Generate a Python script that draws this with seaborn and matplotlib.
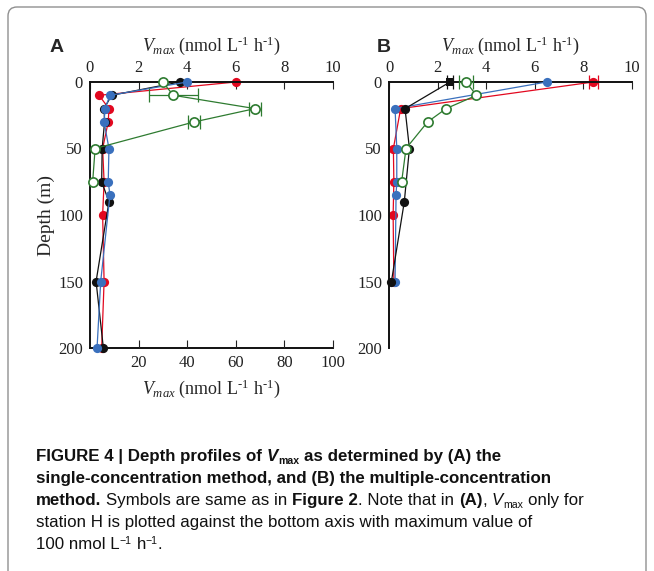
import matplotlib
matplotlib.use("Agg")
import matplotlib.pyplot as plt
import numpy as np
import pandas as pd
import seaborn as sns
from matplotlib.patches import FancyBboxPatch
from matplotlib.transforms import IdentityTransform

# ---------------- data ----------------
# Panel A: single-concentration method (top axis 0-10 nmol L-1 h-1)
a_red_depth = [0, 10, 20, 30, 50, 75, 100, 150, 200]
a_red_vmax = [6.0, 0.37, 0.78, 0.75, 0.52, 0.58, 0.52, 0.58, 0.48]
a_black_depth = [0, 10, 20, 30, 50, 75, 90, 150, 200]
a_black_vmax = [3.7, 0.89, 0.58, 0.60, 0.50, 0.48, 0.78, 0.25, 0.55]
a_blue_depth = [0, 10, 20, 30, 50, 75, 85, 150, 200]
a_blue_vmax = [4.0, 0.82, 0.62, 0.58, 0.78, 0.75, 0.82, 0.44, 0.29]
# station H (bottom axis 0-100)
a_green_depth = [0, 10, 20, 30, 50, 75]
a_green_vmax = [29.9, 34.3, 67.9, 42.9, 2.1, 1.1]
a_green_err = [0, 10.0, 2.5, 2.5, 0, 0]

# Panel B: multiple-concentration method
b_red_depth = [0, 20, 50, 75, 100, 150]
b_red_vmax = [8.41, 0.48, 0.18, 0.20, 0.17, 0.20]
b_red_err = [0.2, 0, 0, 0, 0, 0]
b_blue_depth = [0, 20, 50, 75, 85, 150]
b_blue_vmax = [6.49, 0.25, 0.32, 0.32, 0.29, 0.25]
b_black_depth = [0, 20, 50, 90, 150]
b_black_vmax = [2.51, 0.66, 0.84, 0.63, 0.10]
b_black_err = [0.12, 0, 0, 0, 0]
b_black_marker = ["s", "o", "o", "o", "o"]
b_green_depth = [0, 10, 20, 30, 50, 75]
b_green_vmax = [3.17, 3.60, 2.35, 1.59, 0.70, 0.52]
b_green_err = [0.28, 0, 0, 0, 0, 0]

top_ticks = [0, 2, 4, 6, 8, 10]
bottom_ticks = [20, 40, 60, 80, 100]
depth_ticks = [0, 50, 100, 150, 200]

RED = "#e2081f"
BLUE = "#3a70bd"
BLACK = "#111111"
GREEN = "#2e7b30"

SERIF = "Liberation Serif"
CAP_FONT = ["Liberation Sans Narrow", "Liberation Sans", "DejaVu Sans"]

sns.set_theme(style="white")
plt.rcParams["font.family"] = [SERIF, "DejaVu Serif"]
plt.rcParams["mathtext.fontset"] = "custom"
plt.rcParams["mathtext.rm"] = SERIF
plt.rcParams["mathtext.it"] = SERIF + ":italic"
plt.rcParams["mathtext.bf"] = SERIF + ":bold"

W, H = 654, 571
fig = plt.figure(figsize=(W / 100, H / 100), dpi=100)
fig.patch.set_facecolor("white")


def px_axes(left, top, right, bottom):
    return [left / W, 1 - bottom / H, (right - left) / W, (bottom - top) / H]


def profile(ax, x, y, color, open_=False, xerr=None, markers=None, z=2):
    df = pd.DataFrame({"vmax": x, "depth": y})
    sns.lineplot(data=df, x="vmax", y="depth", sort=False, estimator=None,
                 color=color, lw=0.9, ax=ax, zorder=z, legend=False,
                 clip_on=False)
    if xerr is not None:
        sel = [i for i, e in enumerate(xerr) if e > 0]
        if sel:
            ax.errorbar([x[i] for i in sel], [y[i] for i in sel],
                        xerr=[xerr[i] for i in sel], fmt="none", ecolor=color,
                        elinewidth=0.9, capsize=5, capthick=0.9, zorder=z,
                        clip_on=False)
    if markers is None:
        markers = ["o"] * len(x)
    df["mk"] = markers
    for mk, sub in df.groupby("mk"):
        sns.scatterplot(data=sub, x="vmax", y="depth", marker=mk,
                        s=44 if mk == "o" else 34,
                        color="white" if open_ else color,
                        edgecolor=color, linewidth=1.2 if open_ else 0,
                        ax=ax, zorder=z + 0.5, legend=False, clip_on=False)


tick_kw = dict(labelsize=12, colors="#222222")
vlabel = r"$V_{max}$ (nmol L$^{\text{-1}}$ h$^{\text{-1}}$)"
LBL = 13

# ---------------- Panel A ----------------
axA = fig.add_axes(px_axes(90, 82, 333, 348))
axG = axA.twiny()

profile(axA, a_red_vmax, a_red_depth, RED, z=2)
profile(axA, a_black_vmax, a_black_depth, BLACK, z=3)
profile(axA, a_blue_vmax, a_blue_depth, BLUE, z=4)
profile(axG, a_green_vmax, a_green_depth, GREEN, open_=True, xerr=a_green_err, z=5)

axA.set_xlim(0, 10)
axA.set_ylim(200, 0)
axA.set_xticks(top_ticks)
axA.set_yticks(depth_ticks)
axA.xaxis.set_ticks_position("top")
axA.xaxis.set_label_position("top")
axA.tick_params(axis="x", direction="in", length=5, width=0.8, pad=4,
                top=True, bottom=False, labeltop=True, labelbottom=False, **tick_kw)
axA.tick_params(axis="y", direction="in", length=5, width=0.8, pad=5, **tick_kw)
axA.set_xlabel(vlabel, fontsize=LBL, labelpad=7)
axA.set_ylabel("Depth (m)", fontsize=14, labelpad=2)

axG.set_xlim(0, 100)
axG.set_ylim(200, 0)
axG.set_xticks(bottom_ticks)
axG.xaxis.set_ticks_position("bottom")
axG.xaxis.set_label_position("bottom")
axG.tick_params(axis="x", direction="in", length=6, width=0.8, pad=5,
                bottom=True, top=False, labelbottom=True, labeltop=False, **tick_kw)
axG.set_xlabel(vlabel, fontsize=LBL, labelpad=5)
axG.set_ylabel("")
for sp in axG.spines.values():
    sp.set_visible(False)
for name, sp in axA.spines.items():
    sp.set_color("#111111")
    sp.set_linewidth(1.4)
axA.spines["right"].set_visible(False)

# ---------------- Panel B ----------------
axB = fig.add_axes(px_axes(389, 82, 632, 348))
profile(axB, b_red_vmax, b_red_depth, RED, xerr=b_red_err, z=2)
profile(axB, b_blue_vmax, b_blue_depth, BLUE, z=3)
profile(axB, b_black_vmax, b_black_depth, BLACK, xerr=b_black_err,
        markers=b_black_marker, z=4)
profile(axB, b_green_vmax, b_green_depth, GREEN, open_=True, xerr=b_green_err, z=5)
axB.set_xlim(0, 10)
axB.set_ylim(200, 0)
axB.set_xticks(top_ticks)
axB.set_yticks(depth_ticks)
axB.xaxis.set_ticks_position("top")
axB.xaxis.set_label_position("top")
axB.tick_params(axis="x", direction="in", length=5, width=0.8, pad=4,
                top=True, bottom=False, labeltop=True, labelbottom=False, **tick_kw)
axB.tick_params(axis="y", direction="in", length=8, width=0.8, pad=5, **tick_kw)
axB.set_xlabel(vlabel, fontsize=LBL, labelpad=7)
axB.set_ylabel("")
for name, sp in axB.spines.items():
    sp.set_color("#111111")
    sp.set_linewidth(1.4)
axB.spines["right"].set_visible(False)
axB.spines["bottom"].set_visible(False)

# panel letters
fig.text(57 / W, 1 - 47 / H, "A", fontsize=14, fontweight="bold",
         family=["Liberation Sans", "DejaVu Sans"], ha="center", va="center")
fig.text(384 / W, 1 - 47 / H, "B", fontsize=14, fontweight="bold",
         family=["Liberation Sans", "DejaVu Sans"], ha="center", va="center")

# frame
frame = FancyBboxPatch((8, -30), 638, 571 - 7 + 30,
                       boxstyle="round,pad=0,rounding_size=9",
                       transform=IdentityTransform(), fill=False,
                       edgecolor="#8f8f8f", linewidth=1.0)
fig.patches.append(frame)

# ---------------- caption ----------------
renderer = fig.canvas.get_renderer()
BASE = 12.2


def measure(text, **kw):
    t = fig.text(0, 0, text, transform=IdentityTransform(), **kw)
    w = t.get_window_extent(renderer).width
    t.remove()
    return w


def rich_line(x, y_top, segs):
    y = H - y_top
    for text, w, st, sf, dy in segs:
        kw = dict(fontsize=BASE * sf, fontweight=w, fontstyle=st, family=CAP_FONT)
        sp = measure("a a", **kw) - measure("aa", **kw)
        lead = len(text) - len(text.lstrip(" "))
        trail = len(text) - len(text.rstrip(" "))
        core = text.strip(" ")
        x += lead * sp
        if core:
            t = fig.text(x, y + dy, core, transform=IdentityTransform(),
                         va="baseline", ha="left", color="#111111", **kw)
            x = t.get_window_extent(renderer).x1
        x += trail * sp


B_, N_ = "bold", "normal"
I_ = "italic"
cx = 36
rich_line(cx, 461, [("FIGURE 4 | Depth profiles of ", B_, N_, 1, 0),
                    ("V", B_, I_, 1, 0),
                    ("max", B_, N_, 0.62, -3),
                    (" as determined by (A) the", B_, N_, 1, 0)])
rich_line(cx, 483, [("single-concentration method, and (B) the multiple-concentration",
                     B_, N_, 1, 0)])
rich_line(cx, 505, [("method.", B_, N_, 1, 0),
                    (" Symbols are same as in ", N_, N_, 1, 0),
                    ("Figure 2", B_, N_, 1, 0),
                    (". Note that in ", N_, N_, 1, 0),
                    ("(A)", B_, N_, 1, 0),
                    (", ", N_, N_, 1, 0),
                    ("V", N_, I_, 1, 0),
                    ("max", N_, N_, 0.62, -3),
                    (" only for", N_, N_, 1, 0)])
rich_line(cx, 527, [("station H is plotted against the bottom axis with maximum value of",
                     N_, N_, 1, 0)])
rich_line(cx, 549, [("100 nmol L", N_, N_, 1, 0),
                    ("\u22121", N_, N_, 0.62, 5),
                    (" h", N_, N_, 1, 0),
                    ("\u22121", N_, N_, 0.62, 5),
                    (".", N_, N_, 1, 0)])

fig.savefig("out.png", dpi=100, facecolor="white")
